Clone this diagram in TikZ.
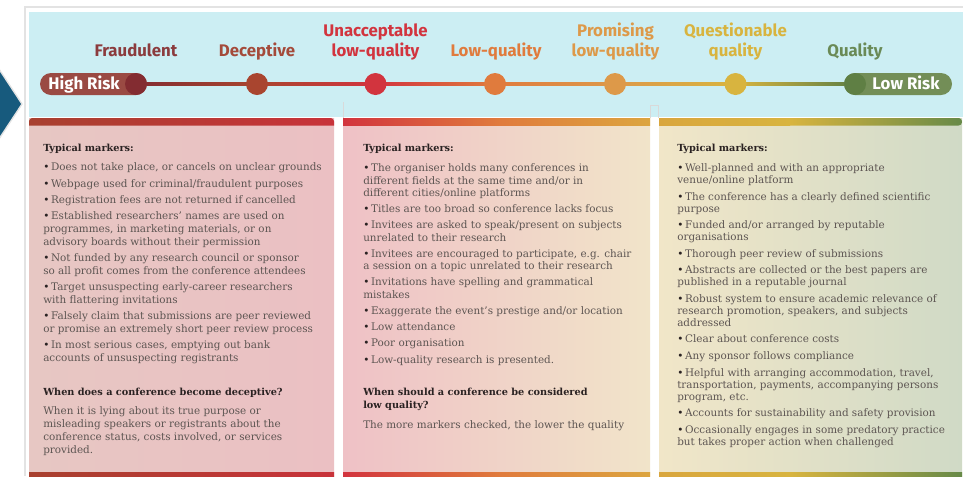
\documentclass[tikz,border=0pt]{standalone}
\usepackage{fontspec}
\setmainfont{DejaVu Serif}
\newfontfamily\labfont{Fira Sans}
\newcommand\firstln{\rule{0pt}{6.2pt}}
\newcommand\bul{{\color{headdark}•}\,}
\definecolor{framegray}{HTML}{E3E3E3}
\definecolor{skyband}{HTML}{CCEEF3}
\definecolor{chev}{HTML}{175A7D}
\definecolor{hrpill}{HTML}{9A4A43}
\definecolor{hrdot}{HTML}{832C31}
\definecolor{lrpill}{HTML}{738E57}
\definecolor{lrdot}{HTML}{5F7F44}
\definecolor{cA}{HTML}{8B3B3D}
\definecolor{cB}{HTML}{A9452F}
\definecolor{cBl}{HTML}{A44A3A}
\definecolor{cC}{HTML}{D2343E}
\definecolor{cD}{HTML}{E07B3D}
\definecolor{cE}{HTML}{DD9949}
\definecolor{cF}{HTML}{D8B43F}
\definecolor{cG}{HTML}{6A8A56}
\definecolor{lbgA}{HTML}{E7C7C3}
\definecolor{lbgB}{HTML}{EBC0C3}
\definecolor{mbgA}{HTML}{EFC1C6}
\definecolor{mbgB}{HTML}{F1E4C9}
\definecolor{rbgA}{HTML}{F1E6C8}
\definecolor{rbgB}{HTML}{D0DAC6}
\definecolor{lbarA}{HTML}{A8402F}
\definecolor{lbarB}{HTML}{C8333A}
\definecolor{mbarC}{HTML}{DCA53F}
\definecolor{rbarA}{HTML}{D9A63E}
\definecolor{rbarC}{HTML}{678A48}
\definecolor{bodygray}{HTML}{5D5552}
\definecolor{headdark}{HTML}{2A2222}
\tikzset{
  lab/.style={font=\labfont\bfseries\fontsize{12.6pt}{14pt}\selectfont, anchor=base, inner sep=0pt},
  pilltext/.style={font=\labfont\bfseries\fontsize{12.6pt}{14pt}\selectfont, text=white, anchor=base, inner sep=0pt},
  dotnode/.style={circle, minimum size=16.5pt, inner sep=0pt},
  pillnode/.style={rectangle, rounded corners=8.25pt, minimum height=16.5pt, inner sep=0pt},
  headtxt/.style={font=\bfseries\fontsize{7.3pt}{9.6pt}\selectfont, text=headdark, anchor=base west, inner sep=0pt, align=left},
  headtxtML/.style={font=\bfseries\fontsize{7.3pt}{9.6pt}\selectfont, text=headdark, anchor=north west, inner sep=0pt, align=left},
  bodyS/.style={font=\fontsize{7.8pt}{9.6pt}\selectfont, text=bodygray, anchor=base west, inner sep=0pt, align=left},
  bodyL/.style={font=\fontsize{7.8pt}{9.6pt}\selectfont, text=bodygray, anchor=north west, inner sep=0pt, align=left},
  bodyM/.style={font=\fontsize{7.8pt}{9.2pt}\selectfont, text=bodygray, anchor=north west, inner sep=0pt, align=left},
  bodyR/.style={font=\fontsize{7.8pt}{9pt}\selectfont, text=bodygray, anchor=north west, inner sep=0pt, align=left},
}
\begin{document}
\begin{tikzpicture}[x=0.75pt,y=-0.75pt]
\useasboundingbox (0,0) rectangle (963,476);
\fill[white] (0,0) rectangle (963,476);
% frame and band
\draw[framegray, line width=1.5pt] (25,476) -- (25,7) -- (963,7);
\fill[skyband] (29,12) rectangle (963,117);
\fill[chev, draw=framegray, line width=1pt] (-3,66) -- (22,104) -- (-3,142) -- cycle;
% columns
\shade[left color=lbgA, right color=lbgB] (29,118) rectangle (334,476);
\shade[left color=mbgA, right color=mbgB] (343,118) rectangle (650,476);
\shade[left color=rbgA, right color=rbgB] (659,118) rectangle (962,476);
% top bars
\shade[left color=lbarA, right color=lbarB] (29,125.5) [rounded corners=2.5pt] |- (334,118) [sharp corners] -- (334,125.5) -- cycle;
\shade[left color=cC, right color=cD] (343,118) rectangle (500,125.5);
\shade[left color=cD, right color=mbarC] (500,118) rectangle (650,125.5);
\shade[left color=rbarA, right color=cF] (659,118) rectangle (790,125.5);
\shade[left color=cF, right color=rbarC] (790,125.5) -- (790,118) [rounded corners=2.5pt] -| (962,125.5) [sharp corners] -- cycle;
% bottom bars
\shade[left color=lbarA, right color=lbarB] (29,472) rectangle (334,476);
\shade[left color=cC, right color=cD] (343,472) rectangle (500,476);
\shade[left color=cD, right color=mbarC] (500,472) rectangle (650,476);
\shade[left color=rbarA, right color=cF] (659,472) rectangle (790,476);
\shade[left color=cF, right color=rbarC] (790,472) rectangle (962,476);
% small gap marks
\draw[gray!30, line width=0.75pt] (343.5,102) -- (343.5,118);
\draw[gray!30, line width=0.75pt] (650.5,118) |- (658.5,105) -- (658.5,118);
% timeline
\coordinate (p0) at (136,84);
\coordinate (p1) at (257,84);
\coordinate (p2) at (375.5,84);
\coordinate (p3) at (495,84);
\coordinate (p4) at (615,84);
\coordinate (p5) at (735.5,84);
\coordinate (p6) at (855,84);
\shade[left color=hrdot, right color=cB] ([yshift=-1pt]p0) rectangle ([yshift=1pt]p1);
\shade[left color=cB, right color=cC] ([yshift=-1pt]p1) rectangle ([yshift=1pt]p2);
\shade[left color=cC, right color=cD] ([yshift=-1pt]p2) rectangle ([yshift=1pt]p3);
\shade[left color=cD, right color=cE] ([yshift=-1pt]p3) rectangle ([yshift=1pt]p4);
\shade[left color=cE, right color=cF] ([yshift=-1pt]p4) rectangle ([yshift=1pt]p5);
\shade[left color=cF, right color=lrdot] ([yshift=-1pt]p5) rectangle ([yshift=1pt]p6);
\node[pillnode, fill=hrpill, minimum width=80.25pt] (hrp) at (93.5,84) {};
\node[dotnode, fill=hrdot] (hrd) at (p0) {};
\node[pilltext] (hrt) at (84,89.4) {High Risk};
\node[dotnode, fill=cB] (d1) at (p1) {};
\node[dotnode, fill=cC] (d2) at (p2) {};
\node[dotnode, fill=cD] (d3) at (p3) {};
\node[dotnode, fill=cE] (d4) at (p4) {};
\node[dotnode, fill=cF] (d5) at (p5) {};
\node[pillnode, fill=lrpill, minimum width=81pt] (lrp) at (898,84) {};
\node[dotnode, fill=lrdot] (lrd) at (p6) {};
\node[pilltext] (lrt) at (906,89.4) {Low Risk};
% labels
\node[lab, text=cA] (l0) at (136,56) {Fraudulent};
\node[lab, text=cBl] (l1) at (257,56) {Deceptive};
\node[lab, text=cC] (l2a) at (375.5,36.5) {Unacceptable};
\node[lab, text=cC] (l2b) at (375.5,56) {low-quality};
\node[lab, text=cD] (l3) at (496,56) {Low-quality};
\node[lab, text=cE] (l4a) at (615.5,36.5) {Promising};
\node[lab, text=cE] (l4b) at (615.5,56) {low-quality};
\node[lab, text=cF] (l5a) at (735.5,36.5) {Questionable};
\node[lab, text=cF] (l5b) at (735.5,56) {quality};
\node[lab, text=cG] (l6) at (855,56) {Quality};
% left column
\node[headtxt] (lh) at (43,151) {Typical markers:};
\node[bodyL] (lb) at (43,162.3) {%
\firstln\bul Does not take place, or cancels on unclear grounds\\[2.6pt]
\bul Webpage used for criminal/fraudulent purposes\\[2.6pt]
\bul Registration fees are not returned if cancelled\\[2.6pt]
\bul Established researchers’ names are used on\\
programmes, in marketing materials, or on\\
advisory boards without their permission\\[2.6pt]
\bul Not funded by any research council or sponsor\\
so all profit comes from the conference attendees\\[2.6pt]
\bul Target unsuspecting early-career researchers\\
with flattering invitations\\[2.6pt]
\bul Falsely claim that submissions are peer reviewed\\
or promise an extremely short peer review process\\[2.6pt]
\bul In most serious cases, emptying out bank\\
accounts of unsuspecting registrants};
\node[headtxt] (lh2) at (43,395.5) {When does a conference become deceptive?};
\node[bodyL] (lp) at (43,406.2) {\firstln When it is lying about its true purpose or\\
misleading speakers or registrants about the\\
conference status, costs involved, or services\\
provided.};
% middle column
\node[headtxt] (mh) at (363,151) {Typical markers:};
\node[bodyM] (mb) at (363,163.2) {%
\firstln\bul The organiser holds many conferences in\\
different fields at the same time and/or in\\
different cities/online platforms\\[3pt]
\bul Titles are too broad so conference lacks focus\\[3pt]
\bul Invitees are asked to speak/present on subjects\\
unrelated to their research\\[3pt]
\bul Invitees are encouraged to participate, e.g. chair\\
a session on a topic unrelated to their research\\[3pt]
\bul Invitations have spelling and grammatical\\
mistakes\\[3pt]
\bul Exaggerate the event’s prestige and/or location\\[3pt]
\bul Low attendance\\[3pt]
\bul Poor organisation\\[3pt]
\bul Low-quality research is presented.};
\node[headtxtML] (mh2) at (363,386.7) {\firstln When should a conference be considered\\low quality?};
\node[bodyS] (mp) at (363,428) {The more markers checked, the lower the quality};
% right column
\node[headtxt] (rh) at (677,151) {Typical markers:};
\node[bodyR] (rb) at (677,163.2) {%
\firstln\bul Well-planned and with an appropriate\\
venue/online platform\\[3.4pt]
\bul The conference has a clearly defined scientific\\
purpose\\[3.4pt]
\bul Funded and/or arranged by reputable\\
organisations\\[3.4pt]
\bul Thorough peer review of submissions\\[3.4pt]
\bul Abstracts are collected or the best papers are\\
published in a reputable journal\\[3.4pt]
\bul Robust system to ensure academic relevance of\\
research promotion, speakers, and subjects\\
addressed\\[3.4pt]
\bul Clear about conference costs\\[3.4pt]
\bul Any sponsor follows compliance\\[3.4pt]
\bul Helpful with arranging accommodation, travel,\\
transportation, payments, accompanying persons\\
program, etc.\\[3.4pt]
\bul Accounts for sustainability and safety provision\\[3.4pt]
\bul Occasionally engages in some predatory practice\\
but takes proper action when challenged};
\end{tikzpicture}
\end{document}
